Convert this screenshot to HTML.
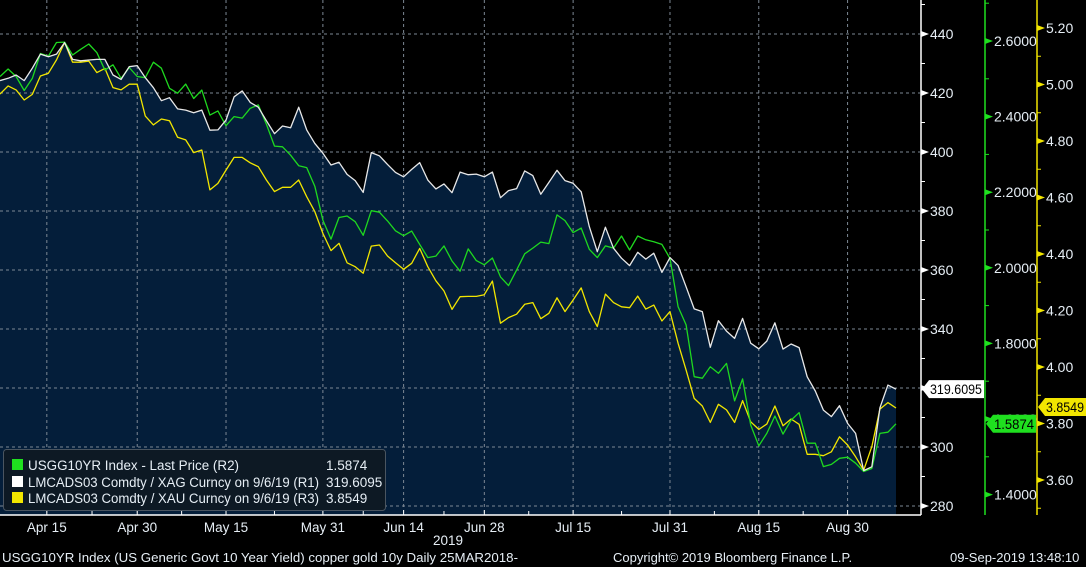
<!DOCTYPE html>
<html><head><meta charset="utf-8">
<style>
html,body{margin:0;padding:0;background:#000;width:1086px;height:567px;overflow:hidden}
svg{display:block;font-family:"Liberation Sans",sans-serif}
</style></head>
<body>
<svg id="chart" width="1086" height="567" viewBox="0 0 1086 567" xmlns="http://www.w3.org/2000/svg">
<rect width="1086" height="567" fill="#000"/>
<g id="grid"></g>
<g id="area"></g>
<g id="axes"></g>
<g id="legend">
<rect x="3.5" y="449.5" width="382" height="61" rx="3" fill="#0d1924" stroke="#4a5560"/>
<rect x="12" y="459" width="11" height="11" fill="#1fe01f"/>
<rect x="12" y="476" width="11" height="11" fill="#ffffff"/>
<rect x="12" y="492" width="11" height="11" fill="#f2e600"/>
<g font-size="13.5" fill="#e6eef5">
<text x="28" y="470" textLength="211" lengthAdjust="spacingAndGlyphs">USGG10YR Index - Last Price (R2)</text>
<text x="28" y="487" textLength="291" lengthAdjust="spacingAndGlyphs">LMCADS03 Comdty / XAG Curncy on 9/6/19 (R1)</text>
<text x="28" y="503" textLength="291" lengthAdjust="spacingAndGlyphs">LMCADS03 Comdty / XAU Curncy on 9/6/19 (R3)</text>
<text x="326" y="470">1.5874</text>
<text x="326" y="487">319.6095</text>
<text x="326" y="503">3.8549</text>
</g>
</g>
<g font-size="13" fill="#e6eef5">
<text x="2" y="562" textLength="516" lengthAdjust="spacingAndGlyphs">USGG10YR Index (US Generic Govt 10 Year Yield) copper gold 10y  Daily 25MAR2018-</text>
<text x="613" y="562">Copyright© 2019 Bloomberg Finance L.P.</text>
<text x="950" y="562">09-Sep-2019 13:48:10</text>
</g>
</svg>
<script>
const NS="http://www.w3.org/2000/svg";
// ---- data ----
const xagValues=[424.2,425.0,426.1,424.2,428.4,433.2,432.3,433.2,437.1,431.4,430.9,431.2,431.4,431.4,426.1,424.6,428.9,429.3,425.2,421.8,417.4,418.4,414.6,414.2,413.3,414.2,407.4,407.5,410.8,418.7,420.7,416.8,415.2,410.6,406.2,408.8,408.2,415.2,407.5,
402.9,399.6,395.6,396.5,392.4,390.3,386.3,399.8,398.7,395.8,393.1,391.6,394.1,396.4,390.5,387.5,389.2,386.2,393.2,392.3,392.5,391.6,393.2,384.5,386.9,387.6,393.6,392.0,385.7,389.7,393.8,390.3,389.4,386.5,374.7,366.2,374.5,
367.4,364.0,361.5,366.0,363.7,365.7,359.2,364.2,361.5,354.3,346.8,345.9,333.8,342.8,339.3,336.8,343.6,335.2,333.3,335.9,342.1,333.2,334.9,333.7,323.8,319.0,312.5,310.3,314.0,308.0,304.6,292.0,293.3,313.3,321.0,319.6095];
const usggValues=[2.506,2.526,2.506,2.469,2.501,2.567,2.560,2.596,2.597,2.563,2.578,2.592,2.569,2.523,2.537,2.501,2.530,2.506,2.503,2.544,2.528,2.475,2.462,2.486,2.448,2.470,2.404,2.415,2.376,2.400,2.396,2.422,2.431,2.380,2.322,2.320,2.298,2.270,2.265,
2.216,2.126,2.076,2.133,2.137,2.122,2.086,2.151,2.147,2.124,2.098,2.085,2.097,2.062,2.027,2.031,2.058,2.018,1.991,2.050,2.019,2.008,2.026,1.976,1.953,1.994,2.037,2.052,2.068,2.064,2.140,2.125,2.093,2.105,2.049,2.027,2.058,
2.052,2.084,2.047,2.084,2.074,2.069,2.062,2.025,1.897,1.849,1.712,1.708,1.738,1.721,1.747,1.648,1.706,1.584,1.529,1.562,1.608,1.560,1.597,1.617,1.536,1.536,1.474,1.480,1.496,1.499,1.483,1.461,1.469,1.562,1.565,1.5874];
const xauValues=[4.966,4.995,4.981,4.945,4.965,5.030,5.040,5.087,5.149,5.079,5.079,5.083,5.042,5.057,4.989,4.981,5.001,5.001,4.888,4.857,4.878,4.872,4.813,4.804,4.759,4.768,4.627,4.650,4.697,4.742,4.742,4.723,4.709,4.662,4.621,4.636,4.636,4.662,4.603,
4.550,4.473,4.412,4.438,4.369,4.355,4.332,4.428,4.432,4.393,4.369,4.346,4.367,4.420,4.355,4.305,4.269,4.204,4.249,4.250,4.250,4.256,4.304,4.155,4.175,4.187,4.222,4.228,4.171,4.190,4.245,4.196,4.237,4.280,4.196,4.143,4.258,
4.228,4.213,4.210,4.251,4.205,4.219,4.163,4.196,4.084,3.989,3.889,3.862,3.804,3.868,3.848,3.804,3.881,3.806,3.779,3.798,3.862,3.792,3.816,3.797,3.691,3.691,3.686,3.700,3.753,3.724,3.682,3.635,3.718,3.851,3.874,3.8549];
const dateLabels=["Apr 15","Apr 30","May 15","May 31","Jun 14","Jun 28","Jul 15","Jul 31","Aug 15","Aug 30"];
const dateIndex=[5.8,17,28,40,50,60,71,83,94,105];
const r1Ticks=[280,300,320,340,360,380,400,420,440];
const r2Ticks=[1.4,1.6,1.8,2.0,2.2,2.4,2.6];
const r3Ticks=[3.6,3.8,4.0,4.2,4.4,4.6,4.8,5.0,5.2];
// ---- scales ----
const N=xagValues.length;
const xS=i=>i*896/(N-1);
const yR1=v=>34+(440-v)*2.95;
const yR2=v=>41+(2.6-v)*378;
const yR3=v=>28+(5.2-v)*282.5;
const BOTTOM=515;
function mk(tag,attrs,parent){const e=document.createElementNS(NS,tag);for(const k in attrs)e.setAttribute(k,attrs[k]);parent.appendChild(e);return e;}
const grid=document.getElementById('grid'),area=document.getElementById('area'),axes=document.getElementById('axes');
let d="M0,"+BOTTOM;xagValues.forEach((v,i)=>{d+=" L"+xS(i).toFixed(1)+","+yR1(v).toFixed(1);});d+=" L"+xS(N-1).toFixed(1)+","+BOTTOM+" Z";
const fill=mk('path',{d:d,fill:'#041e3a'},area);


r1Ticks.forEach(t=>{const l=mk('line',{x1:0,x2:920,y1:yR1(t),y2:yR1(t),stroke:'#7d8894','stroke-dasharray':'3,3','stroke-width':1},grid);

});
dateIndex.forEach(i=>{const l=mk('line',{x1:xS(i),x2:xS(i),y1:0,y2:BOTTOM,stroke:'#7d8894','stroke-dasharray':'3,3','stroke-width':1},grid);

});
grid.parentNode.insertBefore(area,grid);
function line(vals,yf,color,name){let p="";vals.forEach((v,i)=>{p+=(i?" L":"M")+xS(i).toFixed(1)+","+yf(v).toFixed(1);});
const e=mk('path',{d:p,fill:'none',stroke:color,'stroke-width':1.3,'stroke-linejoin':'round'},axes);

}
line(xauValues,yR3,'#f2e600','xau-ratio-line');
line(usggValues,yR2,'#1fd81f','usgg10yr-line');
line(xagValues,yR1,'#e8e8e8','xag-ratio-line');
mk('line',{x1:0,x2:921,y1:BOTTOM,y2:BOTTOM,stroke:'#fff','stroke-width':1.5},axes);
dateIndex.forEach((i,k)=>{mk('line',{x1:xS(i),x2:xS(i),y1:BOTTOM-5,y2:BOTTOM,stroke:'#fff'},axes);
if(k<dateIndex.length-1){const m=(xS(i)+xS(dateIndex[k+1]))/2;mk('line',{x1:m,x2:m,y1:BOTTOM-4,y2:BOTTOM,stroke:'#fff'},axes);}
const t=mk('text',{x:xS(i),y:532,'text-anchor':'middle','font-size':13.5,fill:'#e6eef5'},axes);t.textContent=dateLabels[k];

});
const yr=mk('text',{x:433,y:545,'font-size':13.5,fill:'#e6eef5'},axes);yr.textContent="2019";


function yaxis(x,color,ticks,yf,minorStep,fmt,name,top){
mk('line',{x1:x,x2:x,y1:top,y2:BOTTOM,stroke:color,'stroke-width':1.5},axes);
ticks.forEach(t=>{const y=yf(t);mk('path',{d:`M${x},${y-3} L${x+8},${y} L${x},${y+3} Z`,fill:color},axes);
const tx=mk('text',{x:x+9,y:y+5,'font-size':14,fill:'#e6eef5'},axes);tx.textContent=fmt(t);


const ym=yf(t+minorStep);if(ym>top)mk('line',{x1:x,x2:x+4,y1:ym,y2:ym,stroke:color},axes);});
const ym0=yf(ticks[0]-minorStep);if(ym0<BOTTOM)mk('line',{x1:x,x2:x+4,y1:ym0,y2:ym0,stroke:color},axes);}
yaxis(921,'#ffffff',r1Ticks,yR1,10,t=>String(t),'r1',0);
yaxis(985,'#1fe01f',r2Ticks,yR2,0.1,t=>t.toFixed(4),'r2',0);
yaxis(1037,'#f2e600',r3Ticks,yR3,0.1,t=>t.toFixed(2),'r3',0);
function tag(x,y,w,bg,txt,name){const g=mk('g',{},axes);


mk('path',{d:`M${x},${y} L${x+7},${y-9} L${x+w},${y-9} L${x+w},${y+9} L${x+7},${y+9} Z`,fill:bg},g);
const t=mk('text',{x:x+8,y:y+5,'font-size':14,fill:'#000',textLength:w-10,lengthAdjust:'spacingAndGlyphs'},g);t.textContent=txt;}
tag(922,yR1(xagValues[N-1]),62,'#ffffff',xagValues[N-1].toFixed(4),'xag-last-value-tag');
tag(986,yR2(usggValues[N-1]),50,'#1fe01f',usggValues[N-1].toFixed(4),'usgg-last-value-tag');
tag(1038,yR3(xauValues[N-1])-1,48,'#f2e600',xauValues[N-1].toFixed(4),'xau-last-value-tag');
</script>
</body></html>
